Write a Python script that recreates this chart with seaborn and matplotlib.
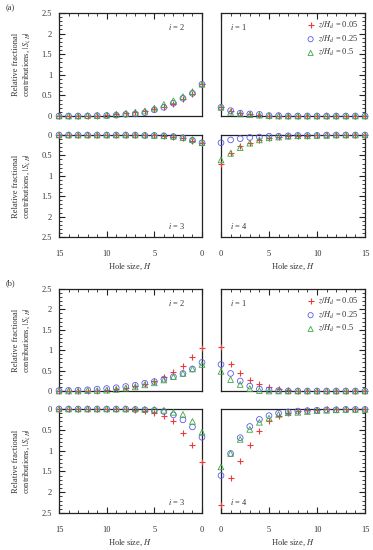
import numpy as np
import matplotlib
matplotlib.use("Agg")
import matplotlib.pyplot as plt
from matplotlib.ticker import MultipleLocator, FuncFormatter
import seaborn as sns

sns.set_style("ticks")
plt.rcParams['font.family'] = ['Liberation Serif', 'DejaVu Serif']
plt.rcParams['mathtext.fontset'] = 'stix'
plt.rcParams['axes.linewidth'] = 0.9

# hole sizes
H = [0, 1, 2, 3, 4, 5, 6, 7, 8, 9, 10, 11, 12, 13, 14, 15]
depths = ["0.05", "0.25", "0.5"]

# (a) relative fractional contributions |S_i,H|
a_i2_005 = [0.77, 0.53, 0.41, 0.29, 0.23, 0.17, 0.12, 0.10, 0.07, 0.04, 0.02, 0.01, 0.01, 0, 0, 0]
a_i2_025 = [0.77, 0.55, 0.43, 0.31, 0.21, 0.15, 0.08, 0.05, 0.04, 0.02, 0.01, 0.01, 0, 0, 0, 0]
a_i2_05 = [0.77, 0.59, 0.47, 0.37, 0.28, 0.19, 0.12, 0.09, 0.06, 0.04, 0.02, 0.01, 0.01, 0, 0, 0]

a_i1_005 = [0.21, 0.12, 0.08, 0.05, 0.03, 0.01, 0.01, 0, 0, 0, 0, 0, 0, 0, 0, 0]
a_i1_025 = [0.21, 0.13, 0.07, 0.05, 0.04, 0.01, 0.01, 0, 0, 0, 0, 0, 0, 0, 0, 0]
a_i1_05 = [0.21, 0.09, 0.05, 0.03, 0.02, 0.01, 0, 0, 0, 0, 0, 0, 0, 0, 0, 0]

a_i3_005 = [0.19, 0.15, 0.08, 0.04, 0.03, 0.01, 0.01, 0.01, 0, 0, 0, 0, 0, 0, 0, 0]
a_i3_025 = [0.19, 0.13, 0.07, 0.04, 0.02, 0.01, 0.01, 0, 0, 0, 0, 0, 0, 0, 0, 0]
a_i3_05 = [0.19, 0.11, 0.06, 0.03, 0.02, 0.01, 0, 0, 0, 0, 0, 0, 0, 0, 0, 0]

a_i4_005 = [0.71, 0.45, 0.28, 0.20, 0.12, 0.07, 0.05, 0.03, 0.02, 0.02, 0.01, 0.01, 0.01, 0, 0, 0]
a_i4_025 = [0.19, 0.12, 0.09, 0.06, 0.05, 0.03, 0.03, 0.02, 0.01, 0.01, 0.01, 0, 0, 0, 0, 0]
a_i4_05 = [0.61, 0.45, 0.31, 0.20, 0.12, 0.07, 0.05, 0.03, 0.02, 0.02, 0.01, 0.01, 0, 0, 0, 0]

# (b)
b_i2_005 = [1.05, 0.83, 0.61, 0.47, 0.35, 0.24, 0.17, 0.12, 0.07, 0.04, 0.02, 0.01, 0.01, 0, 0, 0]
b_i2_025 = [0.70, 0.54, 0.43, 0.35, 0.29, 0.23, 0.19, 0.14, 0.11, 0.08, 0.06, 0.045, 0.03, 0.02, 0.015, 0.01]
b_i2_05 = [0.65, 0.54, 0.43, 0.35, 0.27, 0.20, 0.15, 0.10, 0.07, 0.04, 0.02, 0.01, 0.01, 0, 0, 0]

b_i1_005 = [1.09, 0.67, 0.43, 0.27, 0.16, 0.09, 0.05, 0.03, 0.01, 0.01, 0, 0, 0, 0, 0, 0]
b_i1_025 = [0.65, 0.43, 0.245, 0.12, 0.05, 0.025, 0.01, 0, 0, 0, 0, 0, 0, 0, 0, 0]
b_i1_05 = [0.48, 0.28, 0.16, 0.06, 0.01, 0, 0, 0, 0, 0, 0, 0, 0, 0, 0, 0]

b_i3_005 = [1.28, 0.87, 0.58, 0.30, 0.17, 0.10, 0.05, 0.02, 0.01, 0.01, 0, 0, 0, 0, 0, 0]
b_i3_025 = [0.68, 0.43, 0.26, 0.14, 0.06, 0.03, 0.02, 0.01, 0, 0, 0, 0, 0, 0, 0, 0]
b_i3_05 = [0.56, 0.30, 0.13, 0.08, 0.03, 0.01, 0.01, 0, 0, 0, 0, 0, 0, 0, 0, 0]

b_i4_005 = [2.31, 1.67, 1.24, 0.87, 0.54, 0.29, 0.18, 0.10, 0.06, 0.03, 0.02, 0.01, 0.01, 0, 0, 0]
b_i4_025 = [1.60, 1.07, 0.69, 0.42, 0.25, 0.16, 0.10, 0.07, 0.05, 0.04, 0.03, 0.02, 0.02, 0.01, 0.01, 0.01]
b_i4_05 = [1.39, 1.07, 0.73, 0.49, 0.32, 0.22, 0.13, 0.09, 0.08, 0.06, 0.04, 0.03, 0.02, 0.01, 0.01, 0.01]

panels = {
    "a": {2: [a_i2_005, a_i2_025, a_i2_05], 1: [a_i1_005, a_i1_025, a_i1_05],
          3: [a_i3_005, a_i3_025, a_i3_05], 4: [a_i4_005, a_i4_025, a_i4_05]},
    "b": {2: [b_i2_005, b_i2_025, b_i2_05], 1: [b_i1_005, b_i1_025, b_i1_05],
          3: [b_i3_005, b_i3_025, b_i3_05], 4: [b_i4_005, b_i4_025, b_i4_05]},
}

colors = ["#f03a3a", "#5a5aee", "#3fa83f"]
markers = ["+", "o", "^"]
fs = 6

fig = plt.figure(figsize=(3.73, 5.5), dpi=100)

W, Hpx = 373.0, 550.0
col_x = {"L": (59, 202), "R": (221, 365)}
row_y = {"a": {"top": (13, 116), "bot": (135, 237)},
         "b": {"top": (289, 391), "bot": (409, 513)}}
layout = {2: ("L", "top"), 1: ("R", "top"), 3: ("L", "bot"), 4: ("R", "bot")}

fmt = FuncFormatter(lambda v, p: "%g" % v)

for pk in ["a", "b"]:
    for i, (col, row) in layout.items():
        x0, x1 = col_x[col]
        y0, y1 = row_y[pk][row]
        ax = fig.add_axes([x0 / W, 1 - y1 / Hpx, (x1 - x0) / W, (y1 - y0) / Hpx])
        for k, vals in enumerate(panels[pk][i]):
            lab = r"$z/H_d$ = " + depths[k]
            if markers[k] == "+":
                sns.scatterplot(x=H, y=vals, ax=ax, marker="+", s=24, color=colors[k],
                                linewidth=0.8, clip_on=False, zorder=3, label=lab)
            else:
                sns.scatterplot(x=H, y=vals, ax=ax, marker=markers[k], s=17, color=colors[k],
                                facecolor="none", edgecolor=colors[k], linewidth=0.6,
                                clip_on=False, zorder=3, label=lab)
        if col == "L":
            ax.set_xlim(15, 0)
        else:
            ax.set_xlim(0, 15)
        if row == "top":
            ax.set_ylim(0, 2.5)
        else:
            ax.set_ylim(2.5, 0)
        ax.xaxis.set_major_locator(MultipleLocator(5))
        ax.xaxis.set_minor_locator(MultipleLocator(1))
        ax.yaxis.set_major_locator(MultipleLocator(0.5))
        ax.yaxis.set_minor_locator(MultipleLocator(0.1))
        ax.yaxis.set_major_formatter(fmt)
        ax.xaxis.set_major_formatter(fmt)
        for s in ax.spines.values():
            s.set_visible(True)
            s.set_color("#222222")
        ax.tick_params(which="both", direction="in", colors="#222222", labelsize=fs,
                       labelcolor="#333333",
                       top=(row == "top"), bottom=(row == "bot"),
                       left=(col == "L"), right=(col == "R"),
                       labeltop=False, labelbottom=(row == "bot"),
                       labelleft=(col == "L"), labelright=False)
        ax.tick_params(axis="x", pad=9)
        ax.tick_params(axis="y", pad=5)
        ax.tick_params(which="major", length=4, width=0.8)
        ax.tick_params(which="minor", length=2, width=0.6)
        ax.set_xlabel("")
        ax.set_ylabel("")
        if col == "L":
            ax.set_ylabel("Relative fractional\ncontributions, $|S_{i,H}|$",
                          fontsize=fs, color="#333333", labelpad=6, linespacing=1.25)
        if row == "bot":
            ax.set_xlabel("Hole size, $H$", fontsize=fs, color="#333333", labelpad=3)
        tx = 0.82 if col == "L" else 0.12
        ty = 0.86 if row == "top" else 0.11
        ax.text(tx, ty, "$i$ = %d" % i, transform=ax.transAxes, fontsize=fs,
                ha="center", va="center", color="#333333")
        if i == 1:
            ax.legend(loc="upper right", frameon=False, fontsize=fs, handletextpad=0.4,
                      borderaxespad=0.4, borderpad=0.4, labelspacing=0.3, markerscale=0.9,
                      handlelength=1.0, labelcolor="#333333")
        else:
            leg = ax.get_legend()
            if leg is not None:
                leg.remove()

fig.text(6 / W, 1 - 8 / Hpx, "(a)", fontsize=fs, va="center", ha="left", color="#333333")
fig.text(6 / W, 1 - 283 / Hpx, "(b)", fontsize=fs, va="center", ha="left", color="#333333")

fig.savefig("out.png", dpi=100)
